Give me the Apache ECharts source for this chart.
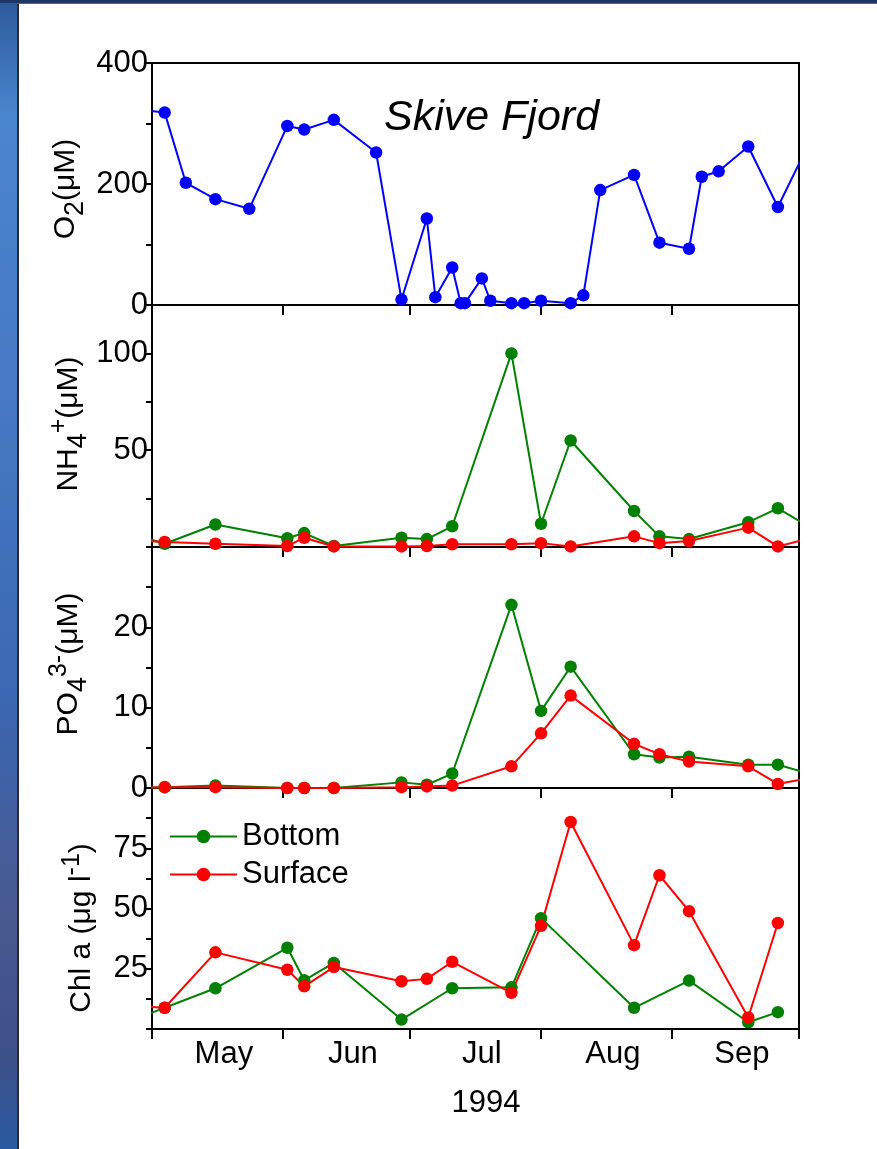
<!DOCTYPE html>
<html>
<head>
<meta charset="utf-8">
<script src="https://cdn.jsdelivr.net/npm/echarts@6.0.0/dist/echarts.min.js"></script>
<style>
html, body { margin: 0; padding: 0; background: #fff; }
#chart { width: 877px; height: 1149px; }
</style>
</head>
<body>
<div id="chart"></div>
<script>
// 月份刻度
var monthNames = ['May', 'Jun', 'Jul', 'Aug', 'Sep'];
var monthStarts = ['1994-05-01', '1994-06-01', '1994-07-01', '1994-08-01', '1994-09-01', '1994-10-01'];

// O2 (µM)
var o2Dates = ['1994-04-26', '1994-05-04', '1994-05-09', '1994-05-16', '1994-05-24', '1994-06-02', '1994-06-06',
    '1994-06-13', '1994-06-23', '1994-06-29', '1994-07-05', '1994-07-07', '1994-07-11', '1994-07-13', '1994-07-14',
    '1994-07-18', '1994-07-20', '1994-07-25', '1994-07-28', '1994-08-01', '1994-08-08', '1994-08-11', '1994-08-15',
    '1994-08-23', '1994-08-29', '1994-09-05', '1994-09-08', '1994-09-12', '1994-09-19', '1994-09-26', '1994-10-03'];
var o2Values = [325, 318, 202, 175, 159, 296, 290, 306, 252, 9, 143, 13, 62, 3, 3,
    44, 7, 3, 3, 7, 3, 16, 190, 215, 103, 93, 212, 221, 262, 162, 262];

// NH4+ / PO4 3- (µM)
var nutDates = ['1994-04-26', '1994-05-04', '1994-05-16', '1994-06-02', '1994-06-06', '1994-06-13', '1994-06-29',
    '1994-07-05', '1994-07-11', '1994-07-25', '1994-08-01', '1994-08-08', '1994-08-23', '1994-08-29', '1994-09-05',
    '1994-09-19', '1994-09-26', '1994-10-03'];
var nh4Bottom = [7, 1.7, 11.6, 4.5, 7.2, 0.5, 4.8, 4.1, 10.7, 100, 12, 55, 18.6, 5.5, 4.1, 12.8, 20, 10.9];
var nh4Surface = [3.5, 2.6, 1.7, 0.5, 4.8, 0.3, 0.3, 0.5, 1.4, 1.4, 2, 0.3, 5.5, 2, 3.1, 10, 0.3, 4.2];
var po4Bottom = [0, 0.1, 0.3, 0, 0, 0, 0.7, 0.4, 1.8, 22.8, 9.6, 15.1, 4.2, 3.8, 3.9, 2.9, 2.9, 1.85];
var po4Surface = [0, 0.1, 0.1, 0, 0, 0, 0.1, 0.2, 0.3, 2.7, 6.8, 11.5, 5.5, 4.2, 3.3, 2.7, 0.5, 1.2];

// Chl a (µg l-1)
var chlBottomDates = ['1994-04-26', '1994-05-04', '1994-05-16', '1994-06-02', '1994-06-06', '1994-06-13', '1994-06-29',
    '1994-07-11', '1994-07-25', '1994-08-01', '1994-08-23', '1994-09-05', '1994-09-19', '1994-09-26'];
var chlBottom = [3.5, 8.8, 16.9, 33.7, 20.2, 27.4, 3.9, 16.9, 17.3, 46, 8.8, 20.1, 2.8, 7];
var chlSurfaceDates = ['1994-04-26', '1994-05-04', '1994-05-16', '1994-06-02', '1994-06-06', '1994-06-13', '1994-06-29',
    '1994-07-05', '1994-07-11', '1994-07-25', '1994-08-01', '1994-08-08', '1994-08-23', '1994-08-29', '1994-09-05',
    '1994-09-19', '1994-09-26'];
var chlSurface = [9.5, 8.8, 31.8, 24.6, 17.7, 25.7, 19.8, 20.8, 27.9, 15, 42.8, 85.9, 34.8, 63.8, 48.9, 4.8, 44];

// y轴标签
var o2Ticks = [0, 200, 400];
var nh4Ticks = [50, 100];
var po4Ticks = [0, 10, 20];
var chlTicks = [25, 50, 75];

var FONT = '"Liberation Sans", Arial, sans-serif';
var GREEN = '#008000', RED = '#ff0000', BLUE = '#0000ff';

// 日期 -> 从5月1日起的天数
function dayOf(s) {
    var p = s.split('-');
    return (Date.UTC(+p[0], +p[1] - 1, +p[2]) - Date.UTC(1994, 4, 1)) / 86400000;
}
function pairs(dates, vals) {
    return dates.map(function (d, i) { return [dayOf(d), vals[i]]; });
}

var tickDays = monthStarts.map(dayOf);
var labelDays = monthNames.map(function (m, i) { return (tickDays[i] + tickDays[i + 1]) / 2 + 1.5; });
var axisEnd = tickDays[tickDays.length - 1];

var gridTops = [63, 305, 547, 788];
var gridHeights = [242, 242, 241, 241];

function makeX(i) {
    return {
        type: 'value', gridIndex: i, min: 0, max: axisEnd,
        axisLine: { onZero: false, lineStyle: { color: '#000', width: 2 } },
        axisTick: { customValues: tickDays, length: 10, lineStyle: { color: '#000', width: 2 } },
        axisLabel: {
            show: i === 3, customValues: labelDays, margin: 10,
            fontSize: 31, fontFamily: FONT, color: '#000',
            formatter: function (v) { return monthNames[labelDays.indexOf(v)] || ''; }
        },
        splitLine: { show: false }
    };
}
function makeY(i, max, interval, labels) {
    return {
        type: 'value', gridIndex: i, min: 0, max: max, interval: interval,
        axisLine: { show: true, onZero: false, lineStyle: { color: '#000', width: 2 } },
        axisTick: { show: true, length: 6, lineStyle: { color: '#000', width: 2 } },
        axisLabel: { customValues: labels, margin: 4, fontSize: 31, fontFamily: FONT, color: '#000' },
        splitLine: { show: false }
    };
}
function makeLine(name, data, color, idx) {
    return {
        name: name, type: 'line', xAxisIndex: idx, yAxisIndex: idx, data: data,
        symbol: 'circle', symbolSize: 12.5, clip: true,
        itemStyle: { color: color },
        lineStyle: { color: color, width: 2 },
        emphasis: { disabled: true }
    };
}

// 竖排的y轴标题（带上下标）
var richSub = {
    n: { fontSize: 30, fontFamily: FONT, lineHeight: 30 },
    s: { fontSize: 27, fontFamily: FONT, lineHeight: 30, padding: [20, 0, 0, 0] },
    p: { fontSize: 25, fontFamily: FONT, lineHeight: 30, padding: [0, 0, 20, 0] }
};
function yTitle(text, x, y) {
    return {
        type: 'text', x: x, y: y, rotation: Math.PI / 2,
        style: {
            text: text, rich: richSub, fill: '#000', fontSize: 30, fontFamily: FONT,
            align: 'center', verticalAlign: 'middle', textAlign: 'center', textVerticalAlign: 'middle'
        }
    };
}

var option = {
    backgroundColor: '#fff',
    animation: false,
    grid: gridTops.map(function (t, i) {
        return { left: 152, width: 647, top: t, height: gridHeights[i], show: true, borderColor: '#000', borderWidth: 2 };
    }),
    xAxis: [makeX(0), makeX(1), makeX(2), makeX(3)],
    yAxis: [
        makeY(0, 400, 100, o2Ticks),
        makeY(1, 125, 25, nh4Ticks),
        makeY(2, 30, 5, po4Ticks),
        makeY(3, 100, 12.5, chlTicks)
    ],
    legend: {
        data: ['Bottom', 'Surface'], orient: 'vertical', left: 169, top: 821, padding: 0,
        itemWidth: 67, itemHeight: 17, itemGap: 7,
        textStyle: { fontSize: 31, fontFamily: FONT, color: '#000' }
    },
    series: [
        makeLine('O2', pairs(o2Dates, o2Values), BLUE, 0),
        makeLine('Bottom', pairs(nutDates, nh4Bottom), GREEN, 1),
        makeLine('Surface', pairs(nutDates, nh4Surface), RED, 1),
        makeLine('Bottom', pairs(nutDates, po4Bottom), GREEN, 2),
        makeLine('Surface', pairs(nutDates, po4Surface), RED, 2),
        makeLine('Bottom', pairs(chlBottomDates, chlBottom), GREEN, 3),
        makeLine('Surface', pairs(chlSurfaceDates, chlSurface), RED, 3)
    ],
    graphic: [
        // 外框
        { type: 'rect', shape: { x: 0, y: 0, width: 18, height: 1149 },
          style: { fill: new echarts.graphic.LinearGradient(0, 0, 0, 1, [
              { offset: 0, color: '#2c5a9b' }, { offset: 0.1, color: '#4a86cd' },
              { offset: 0.35, color: '#4679c3' }, { offset: 0.6, color: '#3b68b3' },
              { offset: 0.8, color: '#48598f' }, { offset: 0.92, color: '#3c5088' },
              { offset: 1, color: '#2a5aa0' }]) } },
        { type: 'rect', shape: { x: 17, y: 0, width: 2, height: 1149 }, style: { fill: '#2b2b2b' } },
        { type: 'rect', shape: { x: 0, y: 0, width: 877, height: 3 }, style: { fill: '#1e3764' } },
        { type: 'rect', shape: { x: 17, y: 3, width: 860, height: 1 }, style: { fill: '#666' } },
        // 文字
        { type: 'text', x: 384, y: 118,
          style: { text: 'Skive Fjord', fontSize: 43, fontStyle: 'italic', fontFamily: FONT, fill: '#000',
                   align: 'left', verticalAlign: 'middle', textAlign: 'left', textVerticalAlign: 'middle' } },
        { type: 'text', x: 486, y: 1103,
          style: { text: '1994', fontSize: 31, fontFamily: FONT, fill: '#000',
                   align: 'center', verticalAlign: 'middle', textAlign: 'center', textVerticalAlign: 'middle' } },
        yTitle('{n|O}{s|2}{n|(μM)}', 66, 189),
        yTitle('{n|NH}{s|4}{p|+}{n|(μM)}', 69, 424),
        yTitle('{n|PO}{s|4}{p|3-}{n|(μM)}', 69, 664),
        yTitle('{n|Chl a (μg l}{p|-1}{n|)}', 82, 928)
    ]
};

var myChart = echarts.init(document.getElementById('chart'));
myChart.setOption(option);
window.onresize = function () {
    myChart.resize();
};
</script>
</body>
</html>
